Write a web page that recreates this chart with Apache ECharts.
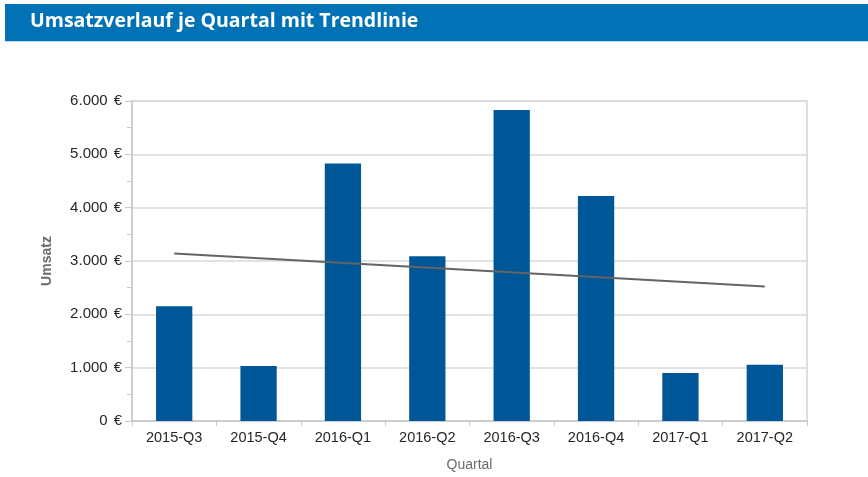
<!DOCTYPE html>
<html>
<head>
<meta charset="utf-8">
<script src="https://cdn.jsdelivr.net/npm/echarts@6/dist/echarts.min.js"></script>
<style>
  html, body { margin: 0; padding: 0; background: #fff; }
  #chart { width: 868px; height: 477px; }
</style>
</head>
<body>
<div id="chart"></div>
<script>
// Quarterly revenue in euros
const quarters = ['2015-Q3', '2015-Q4', '2016-Q1', '2016-Q2', '2016-Q3', '2016-Q4', '2017-Q1', '2017-Q2'];
const revenue = [2150, 1030, 4830, 3090, 5830, 4220, 900, 1055];
// Linear trend line, start and end values
const trendStart = ['2015-Q3', 3140];
const trendEnd = ['2017-Q2', 2520];

const FONT = 'Liberation Sans';

function euro(v) {
  const s = String(Math.round(v)).replace(/\B(?=(\d{3})+(?!\d))/g, '.');
  return s + '\u2009\u2009€';
}

const chart = echarts.init(document.getElementById('chart'), null, { renderer: 'canvas' });

chart.setOption({
  animation: false,
  backgroundColor: '#ffffff',
  textStyle: { fontFamily: FONT },
  graphic: [
    { type: 'rect', shape: { x: 5, y: 4, width: 863, height: 37 }, style: { fill: '#0072b5' } },
    { type: 'rect', shape: { x: 5, y: 41, width: 863, height: 1 }, style: { fill: '#bcd9ec' } },
    { type: 'text', left: 30, top: 11,
      style: { text: 'Umsatzverlauf je Quartal mit Trendlinie', fill: '#ffffff',
               font: 'bold 19.5px "Open Sans"' } }
  ],
  grid: {
    left: 132, right: 61, top: 101, bottom: 56,
    show: true, borderColor: '#d4d4d4', borderWidth: 1.5
  },
  xAxis: {
    type: 'category',
    data: quarters,
    name: 'Quartal',
    nameLocation: 'middle',
    nameGap: 37,
    nameTextStyle: { color: '#6b6b6b', fontSize: 14, fontFamily: FONT },
    axisLine: { lineStyle: { color: '#c8c8c8', width: 1.5 } },
    axisTick: { show: true, alignWithLabel: false, length: 5, lineStyle: { color: '#c8c8c8' } },
    axisLabel: { color: '#262626', fontSize: 14.5, margin: 9 }
  },
  yAxis: {
    type: 'value',
    min: 0, max: 6000, interval: 1000,
    name: 'Umsatz',
    nameLocation: 'middle',
    nameGap: 78,
    nameRotate: 90,
    nameTextStyle: { color: '#6b6b6b', fontSize: 14, fontWeight: 'bold', fontFamily: FONT },
    axisLine: { show: true, lineStyle: { color: '#c8c8c8', width: 1.5 } },
    axisTick: { show: true, length: 7, lineStyle: { color: '#c8c8c8' } },
    minorTick: { show: true, splitNumber: 2, length: 5, lineStyle: { color: '#c8c8c8' } },
    splitLine: { lineStyle: { color: '#d9d9d9', width: 1.5 } },
    axisLabel: { color: '#262626', fontSize: 15, margin: 10, formatter: euro }
  },
  series: [
    {
      type: 'bar',
      data: revenue,
      barWidth: '43%',
      itemStyle: { color: '#005797' }
    },
    {
      type: 'line',
      data: [trendStart, trendEnd],
      symbol: 'none',
      lineStyle: { color: '#646464', width: 2 },
      z: 5
    }
  ]
});
</script>
</body>
</html>
